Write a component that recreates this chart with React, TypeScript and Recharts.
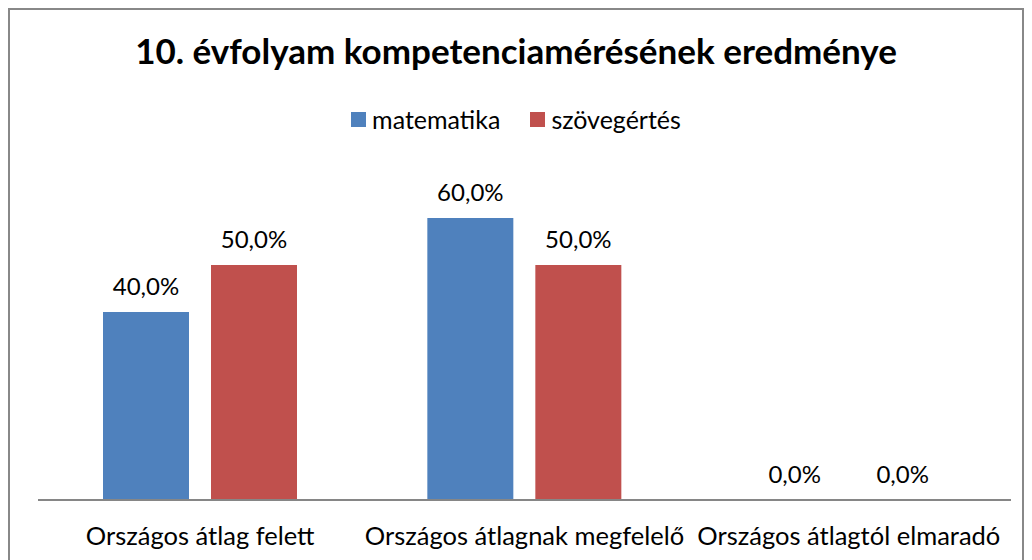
import { Bar, BarChart, LabelList, XAxis, YAxis } from "recharts";

const categories = ["Országos átlag felett", "Országos átlagnak megfelelő", "Országos átlagtól elmaradó"];
const matematika = [0.4, 0.6, 0.0];
const szovegertes = [0.5, 0.5, 0.0];

const seriesNames = { matematika: "matematika", szovegertes: "szövegértés" };
const colors = { matematika: "#4F81BD", szovegertes: "#C0504D" };

const data = categories.map((name, i) => ({
  name,
  matematika: matematika[i],
  szovegertes: szovegertes[i],
}));

const font = "Lato, 'Open Sans', sans-serif";

const pct = (v: unknown) => `${(Number(v) * 100).toFixed(1).replace(".", ",")}%`;

// value above the bar, also for zero-height bars
const ValueLabel = (props: any) => {
  const { x, y, width, value } = props;
  return (
    <text
      x={Number(x) + Number(width) / 2}
      y={Number(y) - 17}
      textAnchor="middle"
      fill="#000"
      fontSize={24}
      fontFamily={font}
    >
      {pct(value)}
    </text>
  );
};

export default function App() {
  return (
    <div
      style={{
        position: "relative",
        width: 1012,
        height: 560,
        border: "2px solid #888",
        background: "#fff",
        fontFamily: font,
      }}
    >
      <div
        style={{
          position: "absolute",
          top: 19,
          left: 0,
          width: "100%",
          textAlign: "center",
          fontSize: 35,
          fontWeight: 700,
          color: "#000",
        }}
      >
        10. évfolyam kompetenciamérésének eredménye
      </div>
      <div
        style={{
          position: "absolute",
          top: 94,
          left: 0,
          width: "100%",
          display: "flex",
          justifyContent: "center",
          gap: 30,
          fontSize: 25,
          color: "#000",
        }}
      >
        {(["matematika", "szovegertes"] as const).map((k) => (
          <div key={k} style={{ display: "flex", alignItems: "center" }}>
            <span style={{ width: 15, height: 15, background: colors[k], marginRight: 6, display: "inline-block" }} />
            <span>{seriesNames[k]}</span>
          </div>
        ))}
      </div>
      <BarChart
        width={1012}
        height={548}
        data={data}
        margin={{ top: 161, right: 11, bottom: 0, left: 28 }}
        barSize={86}
        barGap={22}
      >
        <XAxis
          dataKey="name"
          axisLine={{ stroke: "#868686", strokeWidth: 2 }}
          tickLine={false}
          height={58}
          tick={{ fill: "#000", fontSize: 25.5, fontFamily: font }}
          tickMargin={21}
        />
        <YAxis hide domain={[0, 0.7]} allowDataOverflow />
        <Bar dataKey="matematika" name={seriesNames.matematika} fill={colors.matematika} minPointSize={0.01} isAnimationActive={false}>
          <LabelList dataKey="matematika" content={<ValueLabel />} />
        </Bar>
        <Bar dataKey="szovegertes" name={seriesNames.szovegertes} fill={colors.szovegertes} minPointSize={0.01} isAnimationActive={false}>
          <LabelList dataKey="szovegertes" content={<ValueLabel />} />
        </Bar>
      </BarChart>
    </div>
  );
}
